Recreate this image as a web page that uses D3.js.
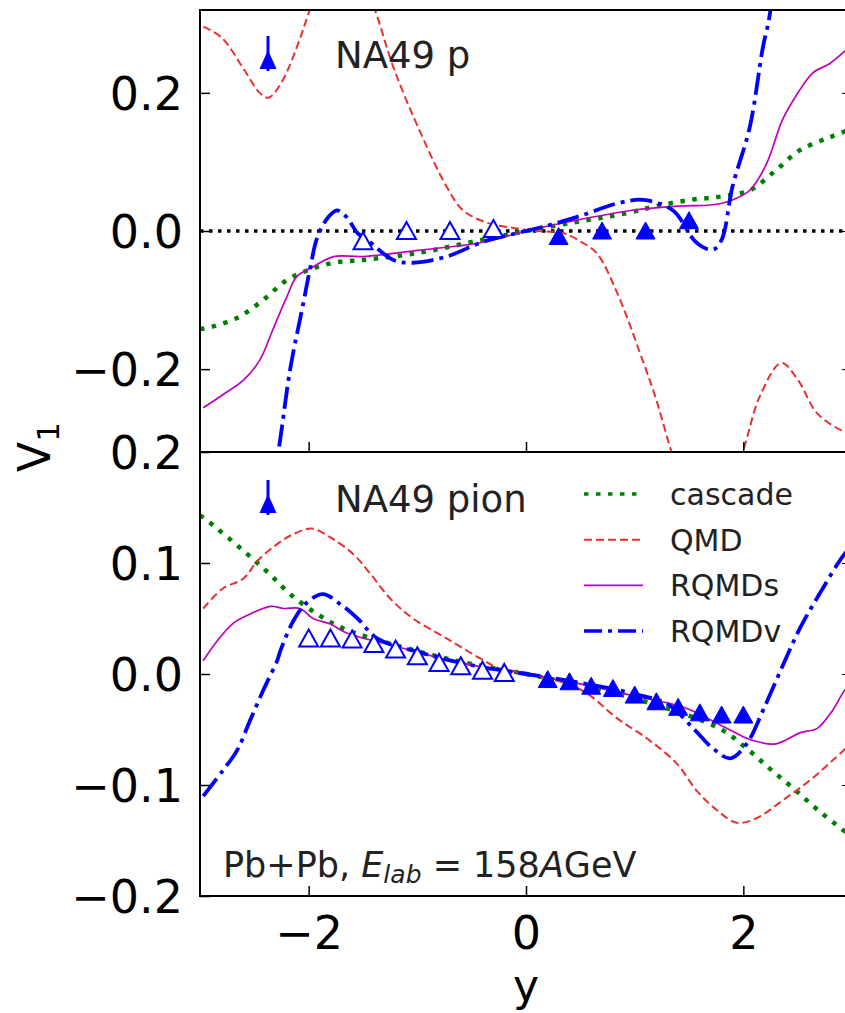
<!DOCTYPE html>
<html>
<head>
<meta charset="utf-8">
<script src="https://d3js.org/d3.v7.min.js"></script>
<style>
body { margin:0; background:#fff; }
svg { display:block; font-family:"DejaVu Sans", sans-serif; }
</style>
</head>
<body>
<svg width="845" height="1013"></svg>
<script>
// ---- data: [rapidity y, v1] ----
// protons (top panel)
var pCascade = [[-3,-0.142],[-2.95,-0.141],[-2.66,-0.126],[-2.42,-0.1],[-2.2,-0.071],[-2.01,-0.057],[-1.77,-0.046],[-1.5,-0.042],[-1.0,-0.032],[-0.5,-0.016],[0,0],[0.5,0.014],[0.93,0.026],[1.2,0.036],[1.51,0.045],[1.8,0.05],[2.06,0.059],[2.3,0.088],[2.52,0.117],[2.8,0.136],[3.0,0.148]];
var pQMD = [[-2.97,0.296],[-2.8,0.28],[-2.6,0.235],[-2.45,0.2],[-2.37,0.193],[-2.25,0.215],[-2.1,0.27],[-1.99,0.32],[-1.85,0.38],[-1.7,0.41],[-1.55,0.38],[-1.39,0.32],[-1.22,0.237],[-0.97,0.142],[-0.73,0.064],[-0.58,0.03],[-0.36,0.012],[-0.1,0.004],[0.1,0.0],[0.34,-0.003],[0.5,-0.015],[0.65,-0.032],[0.84,-0.09],[1.05,-0.177],[1.2,-0.245],[1.34,-0.32],[1.5,-0.39],[1.65,-0.41],[1.8,-0.38],[1.99,-0.32],[2.15,-0.24],[2.35,-0.191],[2.5,-0.215],[2.68,-0.264],[2.92,-0.29],[3.0,-0.293]];
var pRQMDs = [[-2.97,-0.256],[-2.79,-0.237],[-2.6,-0.216],[-2.45,-0.187],[-2.33,-0.143],[-2.2,-0.095],[-2.11,-0.066],[-1.96,-0.052],[-1.77,-0.037],[-1.5,-0.037],[-1.0,-0.028],[-0.42,-0.017],[0,0],[0.38,0.013],[0.98,0.03],[1.4,0.036],[1.72,0.038],[1.9,0.045],[2.06,0.059],[2.21,0.096],[2.36,0.161],[2.49,0.197],[2.64,0.229],[2.8,0.243],[3.0,0.27]];
var pRQMDv = [[-2.4,-0.42],[-2.28,-0.32],[-2.17,-0.2],[-2.05,-0.105],[-1.99,-0.057],[-1.92,-0.009],[-1.82,0.02],[-1.74,0.03],[-1.65,0.02],[-1.55,-0.003],[-1.46,-0.013],[-1.22,-0.042],[-1.04,-0.046],[-0.73,-0.037],[-0.42,-0.017],[-0.24,-0.009],[0,0.0],[0.25,0.01],[0.52,0.023],[0.84,0.04],[1.08,0.045],[1.35,0.03],[1.57,-0.017],[1.72,-0.027],[1.8,-0.013],[1.9,0.064],[2.06,0.151],[2.18,0.266],[2.24,0.31],[2.32,0.42]];
var pOpenY = [-1.5,-1.1,-0.7,-0.3], pOpenV = [-0.015,0.0,0.0,0.003];
var pFillY = [0.3,0.7,1.1,1.5], pFillV = [-0.008,0.0,0.0,0.015];

// pions (bottom panel)
var piCascade = [[-3,0.143],[-2.93,0.138],[-2.6,0.111],[-2.37,0.091],[-2.17,0.072],[-1.92,0.054],[-1.68,0.041],[-1.2,0.026],[-0.6,0.011],[0,0],[0.6,-0.012],[1.2,-0.028],[1.78,-0.049],[2.03,-0.067],[2.24,-0.085],[2.46,-0.103],[2.68,-0.122],[2.91,-0.14],[3,-0.147]];
var piQMD = [[-2.97,0.059],[-2.79,0.077],[-2.6,0.086],[-2.47,0.102],[-2.29,0.117],[-2.14,0.126],[-1.97,0.131],[-1.8,0.123],[-1.59,0.108],[-1.43,0.09],[-1.25,0.068],[-1.04,0.05],[-0.73,0.032],[-0.42,0.014],[-0.24,0.005],[0.06,0],[0.52,-0.015],[0.84,-0.04],[1.14,-0.06],[1.39,-0.081],[1.57,-0.105],[1.76,-0.123],[1.94,-0.134],[2.12,-0.13],[2.36,-0.114],[2.61,-0.096],[2.82,-0.078],[3.0,-0.062]];
var piRQMDs = [[-2.97,0.012],[-2.84,0.03],[-2.69,0.046],[-2.54,0.054],[-2.35,0.061],[-2.23,0.059],[-2.08,0.059],[-1.96,0.05],[-1.8,0.045],[-1.65,0.037],[-1.2,0.025],[-0.6,0.01],[0,0],[0.6,-0.011],[1.0,-0.02],[1.45,-0.03],[1.85,-0.049],[2.06,-0.059],[2.3,-0.063],[2.52,-0.053],[2.68,-0.049],[2.82,-0.033],[2.93,-0.015],[3.0,-0.008]];
var piRQMDv = [[-2.97,-0.11],[-2.79,-0.087],[-2.66,-0.069],[-2.54,-0.042],[-2.42,-0.015],[-2.29,0.012],[-2.26,0.021],[-2.14,0.048],[-2.02,0.064],[-1.87,0.072],[-1.71,0.063],[-1.55,0.05],[-1.37,0.032],[-1.0,0.02],[-0.5,0.008],[0,0],[0.5,-0.008],[1.0,-0.018],[1.3,-0.027],[1.54,-0.049],[1.72,-0.067],[1.88,-0.076],[2.03,-0.063],[2.18,-0.033],[2.36,0.007],[2.52,0.041],[2.7,0.072],[2.93,0.108],[3.0,0.115]];
var piOpenY = [-2.0,-1.8,-1.6,-1.4,-1.2,-1.0,-0.8,-0.6,-0.4,-0.2];
var piOpenV = [0.032,0.032,0.031,0.027,0.022,0.016,0.01,0.007,0.003,0.001];
var piFillY = [0.2,0.4,0.6,0.8,1.0,1.2,1.4,1.6,1.8,2.0];
var piFillV = [-0.005,-0.007,-0.011,-0.013,-0.019,-0.025,-0.03,-0.035,-0.037,-0.037];

var seriesNames = ["cascade","QMD","RQMDs","RQMDv"];
var xTicks = [-2,0,2];
var topTicks = [-0.2,0,0.2];
var botTicks = [-0.2,-0.1,0,0.1,0.2];

var styles = {
  cascade: {color:"#008000", width:4.5, dash:"4.5,7.5"},
  QMD:     {color:"#e8312f", width:2,   dash:"8,4"},
  RQMDs:   {color:"#bf00bf", width:1.7, dash:null},
  RQMDv:   {color:"#0000ff", width:3.8, dash:"22,6,4,6"}
};

var svg = d3.select("svg");
var x = d3.scaleLinear().domain([-3,3]).range([200,852]);
var yTop = d3.scaleLinear().domain([-0.32,0.32]).range([452,10]);
var yBot = d3.scaleLinear().domain([-0.2,0.2]).range([896,452]);

var tri = "M0,-9 L9.5,8 L-9.5,8 Z";

function panel(id, y, curves, openY, openV, fillY, fillV, showX) {
  var top = y.range()[1], bottom = y.range()[0];
  svg.append("clipPath").attr("id", id)
    .append("rect").attr("x",200).attr("y",top).attr("width",652).attr("height",bottom-top);

  var g = svg.append("g").attr("clip-path","url(#"+id+")");

  var line = d3.line()
    .curve(d3.curveCatmullRom.alpha(0.5))
    .x(d => x(d[0]))
    .y(d => y(d[1]));

  seriesNames.forEach(function(n, i) {
    var s = styles[n];
    g.append("path")
      .attr("d", line(curves[i]))
      .attr("fill","none")
      .attr("stroke", s.color)
      .attr("stroke-width", s.width)
      .attr("stroke-dasharray", s.dash);
  });

  g.selectAll(".open").data(openY).enter().append("path")
    .attr("d", tri)
    .attr("transform", (d,i) => "translate(" + x(d) + "," + y(openV[i]) + ")")
    .attr("fill","white").attr("stroke","#0000ff").attr("stroke-width",2);

  g.selectAll(".filled").data(fillY).enter().append("path")
    .attr("d", tri)
    .attr("transform", (d,i) => "translate(" + x(d) + "," + y(fillV[i]) + ")")
    .attr("fill","#0000ff").attr("stroke","#0000ff").attr("stroke-width",1);

  // axes, ticks pointing inward
  var ya = svg.append("g").attr("transform","translate(200,0)")
    .call(d3.axisLeft(y).tickValues(y === yTop ? topTicks : botTicks)
      .tickSize(-10).tickPadding(17).tickFormat(d3.format(".1f")));
  svg.append("g").attr("transform","translate(852,0)")
    .call(d3.axisRight(y).tickValues(y === yTop ? topTicks : botTicks)
      .tickSize(-10).tickFormat(""));
  var xa = svg.append("g").attr("transform","translate(0," + bottom + ")")
    .call(d3.axisBottom(x).tickValues(xTicks).tickSize(-10).tickPadding(20)
      .tickFormat(showX ? d3.format("d") : ""));

  [ya, xa].forEach(function(a) {
    a.select(".domain").remove();
    a.selectAll("line").attr("stroke","#000").attr("stroke-width",1.5);
    a.selectAll("text").attr("font-size",46).attr("font-family","DejaVu Sans").attr("fill","#000");
  });
  ya.selectAll("text").attr("dy","0.36em");

  svg.append("rect")
    .attr("x",200).attr("y",top).attr("width",652).attr("height",bottom-top)
    .attr("fill","none").attr("stroke","#000").attr("stroke-width",2);
}

// zero line in the proton panel
svg.append("line")
  .attr("x1", x(-3)).attr("x2", x(3)).attr("y1", yTop(0)).attr("y2", yTop(0))
  .attr("stroke","#000").attr("stroke-width",3.5).attr("stroke-dasharray","3.5,5.5");

panel("clipTop", yTop, [pCascade,pQMD,pRQMDs,pRQMDv], pOpenY, pOpenV, pFillY, pFillV, false);
panel("clipBot", yBot, [piCascade,piQMD,piRQMDs,piRQMDv], piOpenY, piOpenV, piFillY, piFillV, true);

// NA49 legend entries
function na49(yc, label) {
  svg.append("line").attr("x1",268).attr("x2",268).attr("y1",yc-20).attr("y2",yc+15)
    .attr("stroke","#0000ff").attr("stroke-width",3);
  svg.append("path").attr("d","M0,-10 L8.5,9 L-8.5,9 Z")
    .attr("transform","translate(268," + (yc + 4) + ")")
    .attr("fill","#0000ff");
  svg.append("text").attr("x",335).attr("y",yc + 12)
    .attr("font-size",37).attr("fill","#222").text(label);
}
na49(56, "NA49 p");
na49(500, "NA49 pion");

// model legend
var leg = svg.append("g");
seriesNames.forEach(function(n, i) {
  var s = styles[n], yy = 494 + i * 45.7;
  leg.append("line").attr("x1",584).attr("x2",643).attr("y1",yy).attr("y2",yy)
    .attr("stroke", s.color).attr("stroke-width", Math.min(s.width, 3.5))
    .attr("stroke-dasharray", n === "RQMDv" ? "18,6,4,6" : s.dash);
  leg.append("text").attr("x",670).attr("y",yy + 11)
    .attr("font-size",30).attr("fill","#222").text(n);
});

// collision label
var lab = svg.append("text").attr("x",223).attr("y",877).attr("font-size",35).attr("fill","#222");
lab.append("tspan").text("Pb+Pb, ");
lab.append("tspan").attr("font-style","italic").text("E");
lab.append("tspan").attr("font-style","italic").attr("font-size",25).attr("dy",6).text("lab");
lab.append("tspan").attr("dy",-6).text(" = 158");
lab.append("tspan").attr("font-style","italic").text("A");
lab.append("tspan").text("GeV");

// axis titles
svg.append("text").attr("x",526).attr("y",1001).attr("text-anchor","middle")
  .attr("font-size",44).attr("fill","#000").text("y");
var vl = svg.append("text").attr("transform","translate(50,447) rotate(-90)")
  .attr("text-anchor","middle").attr("font-size",44).attr("fill","#000");
vl.append("tspan").text("V");
vl.append("tspan").attr("font-size",31).attr("dy",9).text("1");
</script>
</body>
</html>
